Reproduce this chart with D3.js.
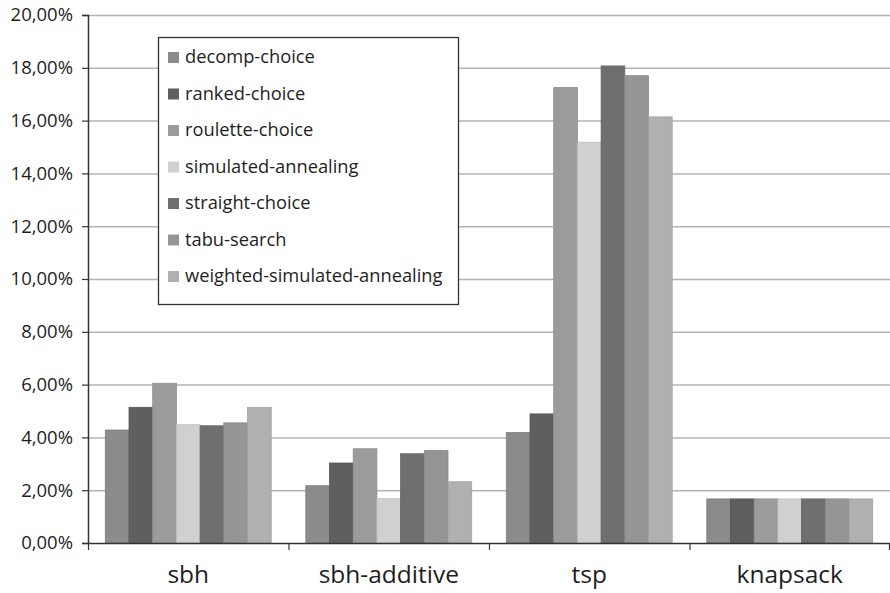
<!DOCTYPE html>
<html><head><meta charset="utf-8">
<script src="https://cdn.jsdelivr.net/npm/d3@7"></script>
<style>body{margin:0;background:#fff}svg{display:block}</style>
</head><body>
<script>
const categories = ["sbh", "sbh-additive", "tsp", "knapsack"];
const seriesNames = ["decomp-choice","ranked-choice","roulette-choice","simulated-annealing","straight-choice","tabu-search","weighted-simulated-annealing"];
const decompChoice = [4.28, 2.17, 4.19, 1.67];
const rankedChoice = [5.14, 3.03, 4.89, 1.67];
const rouletteChoice = [6.05, 3.57, 17.25, 1.67];
const simulatedAnnealing = [4.48, 1.68, 15.18, 1.67];
const straightChoice = [4.44, 3.38, 18.07, 1.67];
const tabuSearch = [4.55, 3.50, 17.70, 1.67];
const weightedSimulatedAnnealing = [5.14, 2.32, 16.14, 1.67];
const yTicks = [0,2,4,6,8,10,12,14,16,18,20];
const colors = ["#8b8b8b","#5f5f5f","#9b9b9b","#d0d0d0","#6f6f6f","#959595","#b0b0b0"];

const seriesValues = [decompChoice, rankedChoice, rouletteChoice, simulatedAnnealing, straightChoice, tabuSearch, weightedSimulatedAnnealing];

const W = 890, H = 593;
const m = {left: 88, right: 0, top: 15, bottom: 50};
const svg = d3.select("body").append("svg").attr("width", W).attr("height", H);
const font = "'Open Sans', 'Noto Sans', sans-serif";

const y = d3.scaleLinear().domain([0, 20]).range([H - m.bottom, m.top]);
const x0 = d3.scaleBand().domain(categories).range([m.left, W - m.right]).paddingInner(0).paddingOuter(0);
const x1 = d3.scaleBand().domain(seriesNames).range([0, x0.bandwidth()]).paddingOuter(0.73).paddingInner(0);

// gridlines
svg.append("g").selectAll("line").data(yTicks.filter(d => d > 0)).join("line")
  .attr("x1", m.left).attr("x2", W).attr("y1", d => y(d) + 0.5).attr("y2", d => y(d) + 0.5)
  .attr("stroke", "#b4b4b4").attr("stroke-width", 1.5);

// bars
const g = svg.append("g");
categories.forEach((c, ci) => {
  g.append("g").attr("transform", `translate(${x0(c)},0)`)
    .selectAll("rect").data(seriesNames.map((s, si) => ({s, si, v: seriesValues[si][ci]}))).join("rect")
    .attr("x", d => x1(d.s)).attr("width", x1.bandwidth())
    .attr("y", d => y(d.v)).attr("height", d => y(0) - y(d.v))
    .attr("fill", d => colors[d.si])
    .attr("stroke", d => d3.color(colors[d.si]).darker(0.25)).attr("stroke-width", 0.8);
});

// y axis
const yAxis = d3.axisLeft(y).tickValues(yTicks).tickSize(6).tickPadding(9)
  .tickFormat(d => d3.format(".2f")(d).replace(".", ",") + "%");
const ya = svg.append("g").attr("transform", `translate(${m.left},0)`).call(yAxis);
ya.select(".domain").attr("stroke", "#333").attr("stroke-width", 1.5);
ya.selectAll(".tick line").attr("stroke", "#333").attr("stroke-width", 1.2);
ya.selectAll("text").attr("font-family", font).attr("font-size", "18.5px").attr("fill", "#1e1e1e");

// x axis
const xa = svg.append("g").attr("transform", `translate(0,${y(0)})`)
  .call(d3.axisBottom(x0).tickSize(0).tickPadding(23));
xa.select(".domain").attr("stroke", "#333").attr("stroke-width", 1.5);
xa.selectAll("text").attr("font-family", font).attr("font-size", "24.5px").attr("fill", "#1e1e1e");
const bounds = categories.map(c => x0(c)).concat([W - m.right - 1]);
xa.selectAll(".bt").data(bounds).join("line").attr("class", "bt")
  .attr("x1", d => d + 0.5).attr("x2", d => d + 0.5).attr("y1", 0).attr("y2", 7)
  .attr("stroke", "#333").attr("stroke-width", 1.2);

// legend
const lg = svg.append("g");
lg.append("rect").attr("x", 158.5).attr("y", 37.5).attr("width", 300).attr("height", 267)
  .attr("fill", "#fff").attr("stroke", "#333").attr("stroke-width", 1.3);
const ly = d3.scalePoint().domain(seriesNames).range([57, 276]);
const items = lg.selectAll("g.it").data(seriesNames).join("g").attr("class", "it")
  .attr("transform", d => `translate(168,${ly(d)})`);
items.append("rect").attr("x", 0).attr("y", -5).attr("width", 11).attr("height", 11)
  .attr("fill", (d, i) => colors[i]);
items.append("text").attr("x", 17).attr("y", 0).attr("dy", "0.35em")
  .attr("font-family", font).attr("font-size", "18.3px").attr("fill", "#1e1e1e").text(d => d);
</script>
</body></html>
